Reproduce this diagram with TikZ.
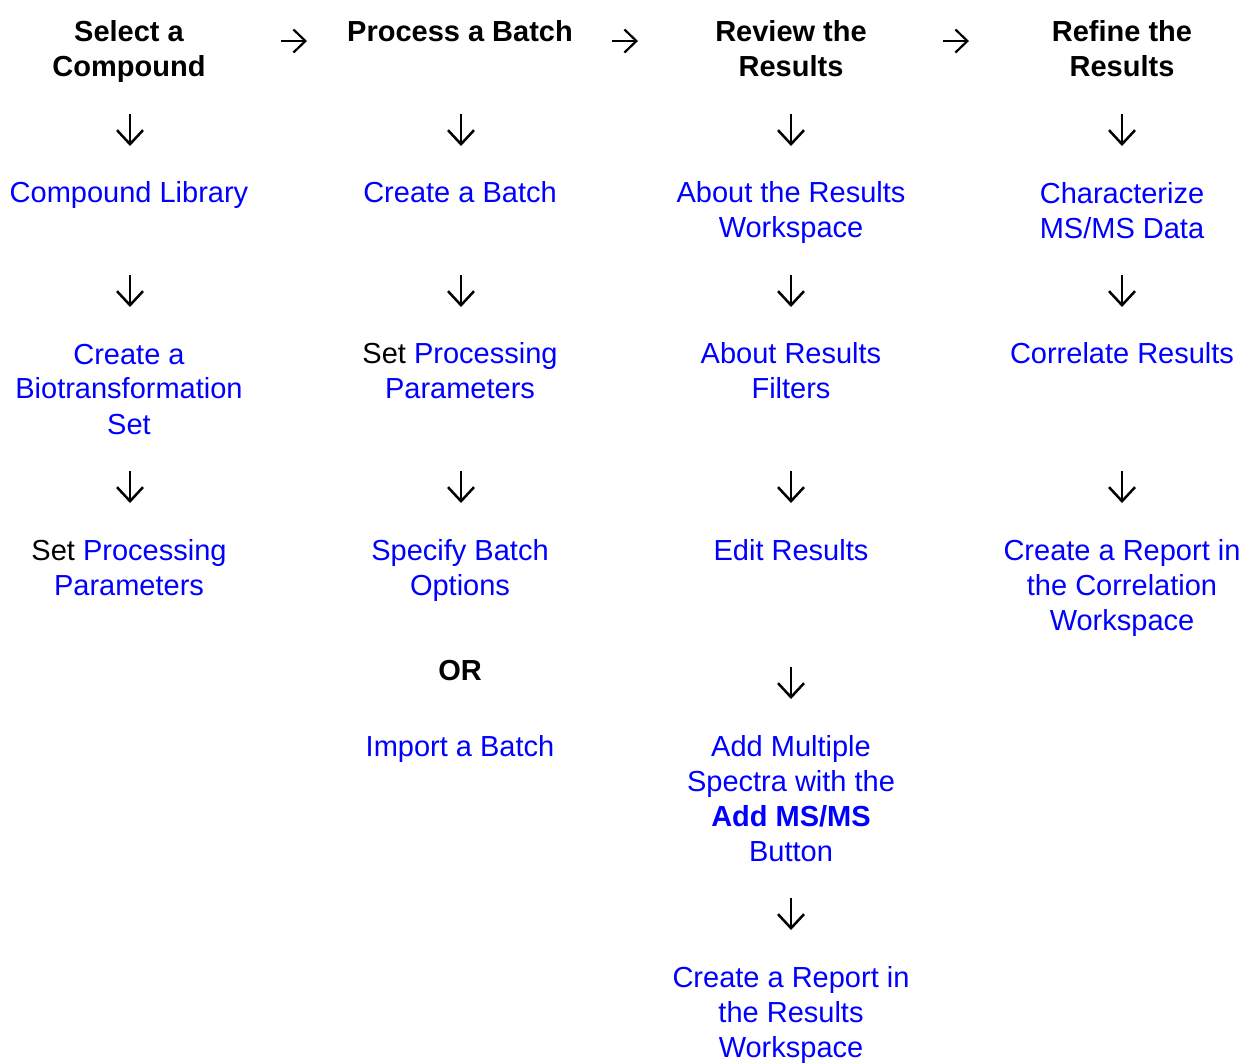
\documentclass[tikz,border=0pt]{standalone}
\usepackage{fontspec}
\setmainfont{Liberation Sans}
\usetikzlibrary{arrows.meta}
\definecolor{LinkBlue}{HTML}{0000FF}
\tikzset{
  stephead/.style={font=\bfseries\fontsize{14.5}{17.5}\selectfont, align=center, inner sep=0pt},
  plaintext/.style={font=\fontsize{14.5}{17.5}\selectfont, align=center, inner sep=0pt},
  link/.style={plaintext, text=LinkBlue},
  dnarrow/.style={-{Straight Barb[length=7pt,width=13pt,line width=1.25pt]}, line width=1.25pt},
  rtarrow/.style={-{Straight Barb[length=6pt,width=11.5pt,line width=1.1pt]}, line width=1.1pt},
}
\begin{document}
\begin{tikzpicture}[x=0.5pt,y=-0.5pt]
	\useasboundingbox (0,0) rectangle (1245,1062);
	% Headers
	\node[stephead] (hselect) at (129,51.5) {Select a\\Compound};
	\node[stephead] (hprocess) at (460,31) {Process a Batch};
	\node[stephead] (hreview) at (791,48.5) {Review the\\Results};
	\node[stephead] (hrefine) at (1122,48.5) {Refine the\\Results};
	\foreach \x in {294,625,956}
		\draw[rtarrow] (\x-13,41) -- (\x+13,41);
	% Select a Compound
	\node[link] (complib) at (129,195) {Compound Library};
	\node[link] (biotrans) at (129,389) {Create a\\Biotransformation\\Set};
	\node[plaintext] (setproca) at (129,567.5) {Set \textcolor{LinkBlue}{Processing}\\\textcolor{LinkBlue}{Parameters}};
	% Process a Batch
	\node[link] (newbatch) at (460,192) {Create a Batch};
	\node[plaintext] (setprocb) at (460,371) {Set \textcolor{LinkBlue}{Processing}\\\textcolor{LinkBlue}{Parameters}};
	\node[link] (batchopts) at (460,570.5) {Specify Batch\\Options};
	\node[stephead] (orword) at (460,670) {OR};
	\node[link] (impbatch) at (460,749) {Import a Batch};
	% Review the Results
	\node[link] (resws) at (791,212) {About the Results\\Workspace};
	\node[link] (resfilt) at (791,371) {About Results\\Filters};
	\node[link] (editres) at (791,550) {Edit Results};
	\node[link] (addspec) at (791,798.5) {Add Multiple\\Spectra with the\\\textbf{Add MS/MS}\\Button};
	\node[link] (reprev) at (791,1015) {Create a Report in\\the Results\\Workspace};
	% Refine the Results
	\node[link] (charms) at (1122,211) {Characterize\\MS/MS Data};
	\node[link] (corres) at (1122,353) {Correlate Results};
	\node[link] (repcorr) at (1122,588) {Create a Report in\\the Correlation\\Workspace};
	% Down arrows
	\foreach \x in {130,461,791,1122}
		\foreach \y in {130,291,487}
			\draw[dnarrow] (\x,\y-16) -- (\x,\y+16);
	\foreach \y in {683,914}
		\draw[dnarrow] (791,\y-16) -- (791,\y+16);
\end{tikzpicture}
\end{document}
